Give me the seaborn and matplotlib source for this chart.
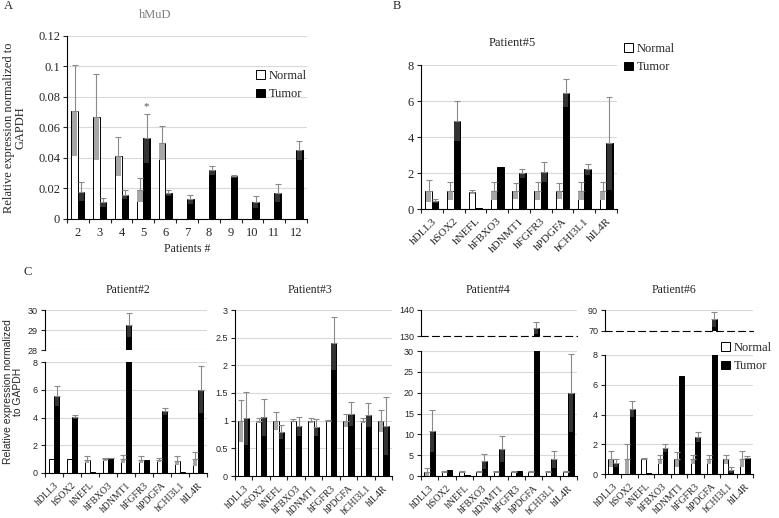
import matplotlib
matplotlib.use("Agg")
import matplotlib.pyplot as plt
from matplotlib.patches import Patch
from matplotlib.ticker import FuncFormatter, MultipleLocator, FixedLocator
import pandas as pd
import seaborn as sns

# ---- data ----
patients = [2, 3, 4, 5, 6, 7, 8, 9, 10, 11, 12]
mud_normal = [0.071, 0.067, 0.041, 0.019, 0.050, 0, 0, 0, 0, 0, 0]
mud_normal_err = [0.030, 0.028, 0.013, 0.008, 0.011, 0, 0, 0, 0, 0, 0]
mud_tumor = [0.018, 0.011, 0.016, 0.053, 0.017, 0.013, 0.032, 0.028, 0.011, 0.017, 0.045]
mud_tumor_err = [0.006, 0.003, 0.003, 0.016, 0.002, 0.003, 0.003, 0.001, 0.004, 0.006, 0.006]

genes = ["hDLL3", "hSOX2", "hNEFL", "hFBXO3", "hDNMT1", "hFGFR3", "hPDGFA", "hCHI3L1", "hIL4R"]
genes_b = ["hDLL3", "hSOX2", "hNEFL", "hFBXO3", "hDNMT1", "hFGFR3", "hPDGFA", "hCHI3L1", "hIL4R"]

p5_normal = [1.0, 1.0, 0.95, 1.0, 1.0, 1.0, 1.0, 1.0, 1.0]
p5_normal_err = [0.6, 0.5, 0.1, 0.5, 0.45, 0.5, 0.45, 0.5, 0.5]
p5_tumor = [0.45, 4.9, 0.05, 2.35, 2.0, 2.05, 6.45, 2.2, 3.65]
p5_tumor_err = [0.1, 1.1, 0, 0, 0.25, 0.55, 0.8, 0.3, 2.6]

p2_normal = [1.0, 1.0, 0.95, 1.0, 1.0, 0.95, 0.95, 0.9, 1.0]
p2_normal_err = [0, 0, 0.25, 0.1, 0.3, 0.25, 0.15, 0.35, 0.5]
p2_tumor = [5.55, 4.05, 0.05, 1.05, 29.25, 0.95, 4.45, 0.05, 6.0]
p2_tumor_err = [0.75, 0.15, 0, 0.05, 0.6, 0, 0.25, 0, 1.7]

p3_normal = [1.0, 1.0, 1.0, 1.0, 1.0, 1.0, 1.0, 1.0, 1.0]
p3_normal_err = [0.38, 0.05, 0.16, 0.03, 0.05, 0.02, 0.12, 0.05, 0.2]
p3_tumor = [1.04, 1.06, 0.8, 0.9, 0.88, 2.4, 1.12, 1.1, 0.9]
p3_tumor_err = [0.48, 0.34, 0.13, 0.17, 0.15, 0.48, 0.22, 0.22, 0.52]

p4_normal = [1.0, 1.0, 1.0, 1.0, 1.0, 1.0, 1.0, 1.0, 1.0]
p4_normal_err = [0.9, 0.1, 0.1, 0.2, 0.2, 0.1, 0.2, 0.2, 0.2]
p4_tumor = [10.8, 1.5, 0.2, 3.6, 6.5, 1.1, 133.0, 4.0, 19.9]
p4_tumor_err = [5.1, 0, 0, 1.8, 3.1, 0, 2.2, 2.0, 9.3]

p6_normal = [1.0, 1.0, 1.0, 1.0, 1.0, 1.0, 1.0, 1.0, 1.0]
p6_normal_err = [0.55, 1.0, 0.05, 0.3, 0.5, 0.3, 0.3, 0.3, 0.55]
p6_tumor = [0.75, 4.35, 0.05, 1.75, 6.6, 2.5, 81.0, 0.25, 1.1]
p6_tumor_err = [0.25, 0.55, 0, 0.25, 0, 0.35, 7.0, 0.2, 0.1]

sns.set_style("white")
plt.rcParams["font.family"] = ["Liberation Serif", "DejaVu Serif"]
SANS = ["Liberation Sans Narrow", "Liberation Sans", "DejaVu Sans"]
W, H = 779, 518

fig = plt.figure(figsize=(W / 100, H / 100), dpi=100)


def box(x0, x1, ytop, ybot):
    # pixel box -> figure fraction
    return fig.add_axes([x0 / W, 1 - ybot / H, (x1 - x0) / W, (ybot - ytop) / H])


def bars(ax, cats, normal, normal_err, tumor, tumor_err):
    n = len(cats)
    df = pd.DataFrame({"cat": [str(c) for c in cats] * 2,
                       "group": ["Normal"] * n + ["Tumor"] * n,
                       "value": list(normal) + list(tumor)})
    sns.barplot(data=df, x="cat", y="value", hue="group", palette=["white", "black"],
                edgecolor="black", linewidth=0.7, width=0.6, errorbar=None,
                legend=False, ax=ax)
    conts = list(ax.containers[:2])
    for cont, errs, band in zip(conts, [normal_err, tumor_err], ["#a6a6a6", "#333333"]):
        for bar, e in zip(cont, errs):
            if e <= 0:
                continue
            x = bar.get_x() + bar.get_width() / 2
            h = bar.get_height()
            ax.bar(x, e, bottom=h - e, width=bar.get_width() * 0.8,
                   color=band, lw=0, zorder=3)
            ax.errorbar(x, h, yerr=[[0], [e]], fmt="none", ecolor="#8a8a8a",
                        elinewidth=0.8, capsize=2, capthick=0.8, zorder=4)
    ax.set_xlabel("")
    ax.set_ylabel("")
    ax.set_xlim(-0.5, n - 0.5)
    return conts


def style(ax, ylo, yhi, step, ysize, yfont, top=False, rot=0, xsize=8, ticks=None):
    ax.set_ylim(ylo, yhi)
    if ticks is not None:
        ax.yaxis.set_major_locator(FixedLocator(ticks))
    else:
        ax.yaxis.set_major_locator(MultipleLocator(step))
    ax.yaxis.set_major_formatter(FuncFormatter(lambda v, p: f"{v:g}"))
    ax.yaxis.grid(True, color="#d9d9d9", lw=0.8)
    ax.set_axisbelow(True)
    for s in ["top", "right"]:
        ax.spines[s].set_visible(False)
    for s in ["left", "bottom"]:
        ax.spines[s].set_color("black")
        ax.spines[s].set_linewidth(0.8)
    ax.tick_params(axis="y", left=True, length=3, width=0.8, pad=2, labelsize=ysize)
    for t in ax.get_yticklabels():
        t.set_fontfamily(yfont)
    if top:
        ax.tick_params(axis="x", bottom=False, labelbottom=False)
        return
    n = len(ax.get_xticks())
    ax.set_xticks([i + 0.5 for i in range(-1, n)], minor=True)
    ax.tick_params(axis="x", which="minor", bottom=True, length=3, width=0.8)
    ax.tick_params(axis="x", which="major", bottom=False, labelsize=xsize, pad=2)
    if rot:
        for t in ax.get_xticklabels():
            t.set_rotation(rot)
            t.set_ha("right")
            t.set_rotation_mode("anchor")


def legend(ax, x, y, size=9):
    handles = [Patch(facecolor="white", edgecolor="black", lw=0.7, label="Normal"),
               Patch(facecolor="black", edgecolor="black", lw=0.7, label="Tumor")]
    ax.legend(handles=handles, loc="upper left", bbox_to_anchor=(x / W, 1 - y / H),
              bbox_transform=fig.transFigure, frameon=False, fontsize=size,
              handlelength=0.7, handleheight=0.7, handletextpad=0.3,
              labelspacing=0.5, borderpad=0, borderaxespad=0)


# ---- A: hMuD ----
axA = box(67, 307, 36, 219)
contsA = bars(axA, patients, mud_normal, mud_normal_err, mud_tumor, mud_tumor_err)
style(axA, 0, 0.12, 0.02, 9, ["Liberation Serif"], xsize=9)
axA.set_xlabel("Patients #", fontsize=8.5, labelpad=3)
tb = contsA[1][3]
axA.text(tb.get_x() + tb.get_width() / 2, mud_tumor[3] + mud_tumor_err[3] + 0.002, "*",
         ha="center", va="bottom", fontsize=8, color="#555555")
legend(axA, 256, 70)
fig.text(155 / W, 1 - 15 / H, "hMuD", ha="center", va="center", fontsize=9, color="#7f7f7f")
fig.text(15 / W, 1 - 128 / H, "Relative expression normalized to\nGAPDH", rotation=90,
         ha="center", va="center", fontsize=9, linespacing=1.0)

# ---- B: Patient#5 ----
axB = box(421, 617, 65, 209)
bars(axB, genes_b, p5_normal, p5_normal_err, p5_tumor, p5_tumor_err)
style(axB, 0, 8, 2, 9, ["Liberation Serif"], rot=45, xsize=8)
legend(axB, 624, 43)
fig.text(512 / W, 1 - 43 / H, "Patient#5", ha="center", va="center", fontsize=9)

# ---- C: Patient#2 (broken axis) ----
axC1t = box(45, 207, 310, 350)
bars(axC1t, genes, p2_normal, p2_normal_err, p2_tumor, p2_tumor_err)
style(axC1t, 28, 30, 1, 6.5, SANS, top=True)
axC1t.spines["bottom"].set_visible(False)
axC1 = box(45, 207, 362, 473)
bars(axC1, genes, p2_normal, p2_normal_err, p2_tumor, p2_tumor_err)
style(axC1, 0, 8, 2, 6.5, SANS, rot=45, xsize=7)

# ---- C: Patient#3 ----
axC2 = box(235, 392, 310, 476)
bars(axC2, genes, p3_normal, p3_normal_err, p3_tumor, p3_tumor_err)
style(axC2, 0, 3, 0.5, 6.5, SANS, rot=45, xsize=7)

# ---- C: Patient#4 (broken axis) ----
axC3t = box(421, 577, 310, 336)
bars(axC3t, genes, p4_normal, p4_normal_err, p4_tumor, p4_tumor_err)
style(axC3t, 130, 140, 10, 6.5, SANS, top=True)
axC3t.spines["bottom"].set_linestyle((0, (6, 4)))
axC3 = box(421, 577, 351, 476)
bars(axC3, genes, p4_normal, p4_normal_err, p4_tumor, p4_tumor_err)
style(axC3, 0, 30, 5, 6.5, SANS, rot=45, xsize=7)

# ---- C: Patient#6 (broken axis) ----
axC4t = box(605, 753, 310, 331)
bars(axC4t, genes, p6_normal, p6_normal_err, p6_tumor, p6_tumor_err)
style(axC4t, 70, 90, 20, 6.5, SANS, top=True, ticks=[70, 90])
axC4t.spines["bottom"].set_linestyle((0, (6, 4)))
axC4 = box(605, 753, 355, 474)
bars(axC4, genes, p6_normal, p6_normal_err, p6_tumor, p6_tumor_err)
style(axC4, 0, 8, 2, 6.5, SANS, rot=45, xsize=7)
legend(axC4, 721, 342)

for x, name in [(128, "Patient#2"), (310, "Patient#3"), (488, "Patient#4"), (674, "Patient#6")]:
    fig.text(x / W, 1 - 290 / H, name, ha="center", va="center", fontsize=8.5)
fig.text(13 / W, 1 - 392 / H, "Relative expression normalized\nto GAPDH", rotation=90,
         ha="center", va="center", fontsize=7.5, family=SANS, linespacing=1.1)

fig.text(8 / W, 1 - 6 / H, "A", ha="center", va="center", fontsize=9)
fig.text(397 / W, 1 - 6 / H, "B", ha="center", va="center", fontsize=9)
fig.text(28 / W, 1 - 272 / H, "C", ha="center", va="center", fontsize=9)

fig.savefig("out.png", dpi=100)
